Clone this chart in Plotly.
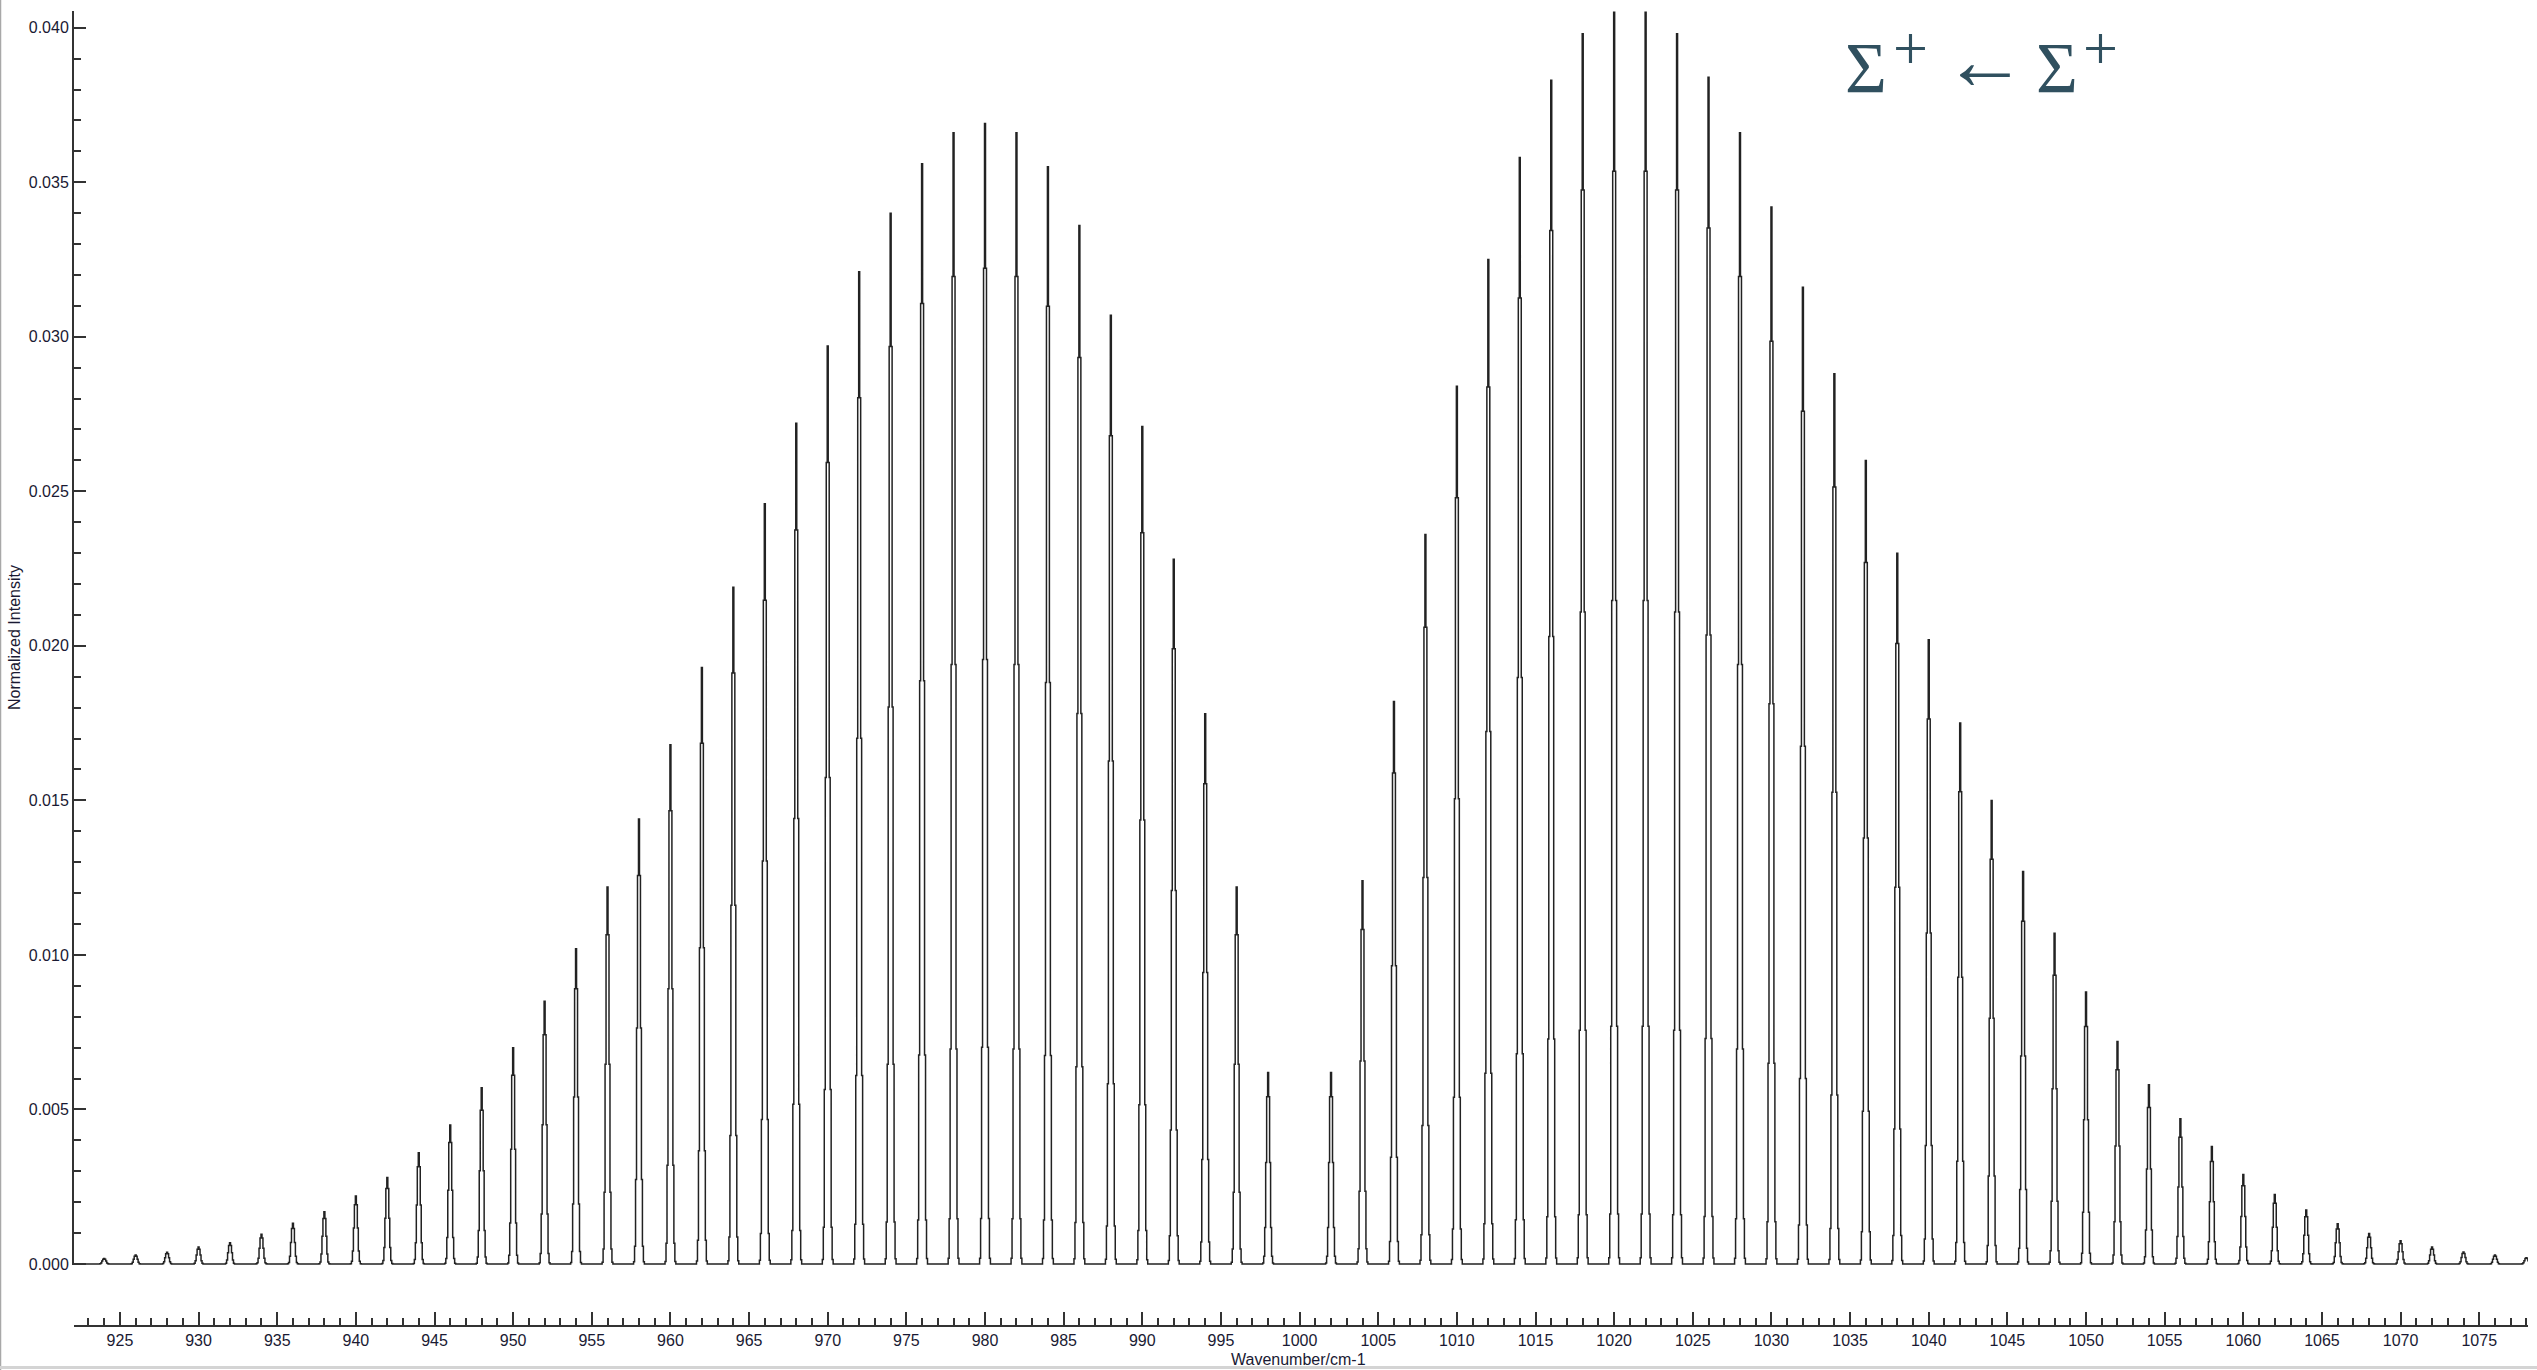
import numpy as np
import plotly.graph_objects as go

# Line list of the Sigma+ <- Sigma+ band: P branch (below the origin) and R branch (above)
p_branch_cm = [924, 926, 928, 930, 932, 934, 936, 938, 940, 942, 944, 946, 948,
               950, 952, 954, 956, 958, 960, 962, 964, 966, 968, 970, 972, 974,
               976, 978, 980, 982, 984, 986, 988, 990, 992, 994, 996, 998]
p_branch_int = [0.00018, 0.00029, 0.00038, 0.00055, 0.00069, 0.00096, 0.00132,
                0.00169, 0.0022, 0.0028, 0.0036, 0.0045, 0.0057, 0.0070, 0.0085,
                0.0102, 0.0122, 0.0144, 0.0168, 0.0193, 0.0219, 0.0246, 0.0272,
                0.0297, 0.0321, 0.0340, 0.0356, 0.0366, 0.0369, 0.0366, 0.0355,
                0.0336, 0.0307, 0.0271, 0.0228, 0.0178, 0.0122, 0.0062]

r_branch_cm = [1002, 1004, 1006, 1008, 1010, 1012, 1014, 1016, 1018, 1020, 1022,
               1024, 1026, 1028, 1030, 1032, 1034, 1036, 1038, 1040, 1042, 1044,
               1046, 1048, 1050, 1052, 1054, 1056, 1058, 1060, 1062, 1064, 1066,
               1068, 1070, 1072, 1074, 1076, 1078]
r_branch_int = [0.0062, 0.0124, 0.0182, 0.0236, 0.0284, 0.0325, 0.0358, 0.0383,
                0.0398, 0.0405, 0.0405, 0.0398, 0.0384, 0.0366, 0.0342, 0.0316,
                0.0288, 0.0260, 0.0230, 0.0202, 0.0175, 0.0150, 0.0127, 0.0107,
                0.0088, 0.0072, 0.0058, 0.0047, 0.0038, 0.0029, 0.00225, 0.00175,
                0.0013, 0.00099, 0.00075, 0.00055, 0.00039, 0.00029, 0.0002]

# Instrument line profile: relative intensity at 0, 1, 2, ... grid steps from a line centre
line_profile = [1.0, 0.873, 0.53, 0.19, 0.04, 0.005]

# Simulation grid (cm-1)
X_RANGE = [922.08, 1078.10]
GRID_START = 922.0625
GRID_STOP = 1078.125
GRID_STEP = 1.0 / 16.0

centres = np.array(p_branch_cm + r_branch_cm, dtype=float)
heights = np.array(p_branch_int + r_branch_int, dtype=float)

grid = np.arange(GRID_START, GRID_STOP + 1e-9, GRID_STEP)
spectrum = np.zeros_like(grid)
n_side = len(line_profile) - 1
for c, h in zip(centres, heights):
    i0 = int(round((c - GRID_START) / GRID_STEP))
    for k in range(-n_side, n_side + 1):
        i = i0 + k
        if 0 <= i < len(grid):
            spectrum[i] += h * line_profile[abs(k)]

AXIS = "#333333"
TEXT = "#1a1a33"
FONT = "Liberation Sans"
LABEL_COL = "#30505f"


def px_x(px):
    # page pixel -> paper x (plot area spans 74 .. 2528)
    return (px - 74) / 2454.0


def px_y(px):
    # page pixel -> paper y (plot area spans 11 .. 1326)
    return (1326 - px) / 1315.0


fig = go.Figure()
fig.add_trace(go.Scatter(
    x=grid, y=spectrum, mode="lines",
    line=dict(color="#222222", width=1.5, shape="hvh"),
    hoverinfo="skip", showlegend=False,
))

# Transition label, built glyph by glyph
label_parts = [
    ("\u03a3", 1866, 68, 72),
    ("+", 1910, 48, 62),
    ("\u2190", 1985, 61, 84),
    ("\u03a3", 2057, 68, 72),
    ("+", 2100, 48, 62),
]
annotations = [
    dict(text=t, xref="paper", yref="paper", x=px_x(x), y=px_y(y),
         xanchor="center", yanchor="middle", showarrow=False,
         font=dict(family="Liberation Serif", size=s, color=LABEL_COL))
    for t, x, y, s in label_parts
]
annotations += [
    dict(text="Normalized Intensity", xref="paper", yref="paper",
         x=px_x(15), y=px_y(638), xanchor="center", yanchor="middle",
         textangle=-90, showarrow=False,
         font=dict(family=FONT, size=16, color=TEXT)),
    dict(text="Wavenumber/cm-1", xref="paper", yref="paper",
         x=px_x(1298), y=px_y(1359), xanchor="center", yanchor="middle",
         showarrow=False, font=dict(family=FONT, size=16, color=TEXT)),
]

fig.update_layout(
    width=2537, height=1370, autosize=False,
    margin=dict(l=74, r=9, t=11, b=44),
    paper_bgcolor="white", plot_bgcolor="white",
    showlegend=False,
    xaxis=dict(
        range=X_RANGE, anchor="free", position=0,
        showline=True, linecolor=AXIS, linewidth=2,
        ticks="inside", ticklen=13, tickwidth=2, tickcolor=AXIS,
        tick0=0, dtick=5,
        minor=dict(ticks="inside", ticklen=7, tickwidth=2, tickcolor=AXIS,
                   dtick=1, showgrid=False),
        showgrid=False, zeroline=False,
        tickfont=dict(family=FONT, size=16, color=TEXT),
    ),
    yaxis=dict(
        domain=[0.0462, 1.0], range=[-0.00004, 0.04054],
        showline=True, linecolor=AXIS, linewidth=2,
        ticks="inside", ticklen=12, tickwidth=2, tickcolor=AXIS,
        tick0=0, dtick=0.005, tickformat=".3f",
        minor=dict(ticks="inside", ticklen=7, tickwidth=2, tickcolor=AXIS,
                   dtick=0.001, showgrid=False),
        showgrid=False, zeroline=False,
        tickfont=dict(family=FONT, size=16, color=TEXT),
    ),
    annotations=annotations,
    shapes=[
        # window frame edges
        dict(type="line", xref="paper", yref="paper",
             x0=px_x(0.5), x1=px_x(0.5), y0=px_y(1370), y1=px_y(0),
             line=dict(color="#a8a8a8", width=1.5)),
        dict(type="line", xref="paper", yref="paper",
             x0=px_x(0), x1=px_x(2537), y0=px_y(1367.5), y1=px_y(1367.5),
             line=dict(color="#d4d4d4", width=3)),
    ],
)

fig.write_html("out.html")
